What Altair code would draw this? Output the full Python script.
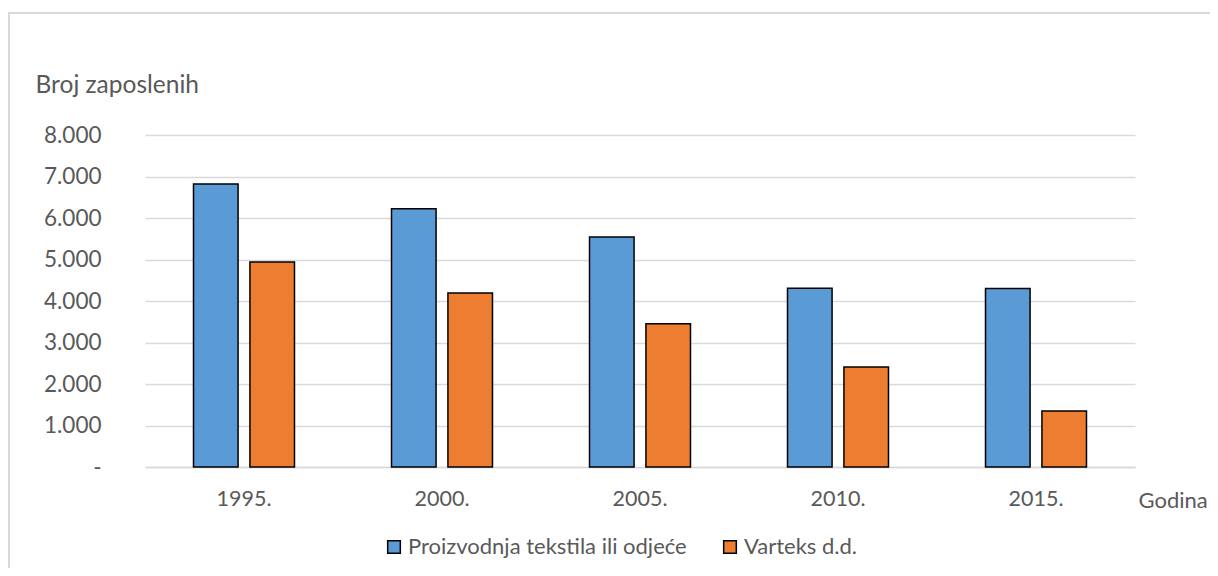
import altair as alt
import pandas as pd

years = ["1995.", "2000.", "2005.", "2010.", "2015."]
series_names = ["Proizvodnja tekstila ili odjeće", "Varteks d.d."]
tekstil = [6820, 6220, 5540, 4310, 4300]
varteks = [4940, 4190, 3450, 2410, 1350]
colors = ["#5B9BD5", "#ED7D31"]

rows = []
for i, y in enumerate(years):
    rows.append({"Godina": y, "Serija": series_names[0], "Vrijednost": tekstil[i]})
    rows.append({"Godina": y, "Serija": series_names[1], "Vrijednost": varteks[i]})
df = pd.DataFrame(rows)

FONT = "Lato"
TXT = "#595959"
GRID = "#d9d9d9"

bars = alt.Chart(df).mark_bar(stroke="black", strokeWidth=1.5).encode(
    x=alt.X(
        "Godina:N",
        sort=years,
        scale=alt.Scale(paddingInner=0.49, paddingOuter=0.245),
        axis=alt.Axis(
            title="Godina",
            titleFont=FONT,
            titleFontSize=22,
            titleFontWeight="normal",
            titleColor=TXT,
            titleAnchor="end",
            titleAlign="left",
            titleBaseline="middle",
            titleX=993,
            titleY=33,
            labelAngle=0,
            labelFont=FONT,
            labelFontSize=21.5,
            labelColor=TXT,
            labelPadding=21,
            ticks=False,
            domainColor=GRID,
            domainWidth=1.5,
        ),
    ),
    xOffset=alt.XOffset(
        "Serija:N",
        sort=series_names,
        scale=alt.Scale(paddingInner=0.21, paddingOuter=0),
    ),
    y=alt.Y(
        "Vrijednost:Q",
        scale=alt.Scale(domain=[0, 8000]),
        axis=alt.Axis(
            title="Broj zaposlenih",
            titleFont=FONT,
            titleFontSize=24.5,
            titleFontWeight="normal",
            titleColor=TXT,
            titleAngle=0,
            titleAlign="left",
            titleBaseline="middle",
            titleX=-110,
            titleY=-50,
            values=[0, 1000, 2000, 3000, 4000, 5000, 6000, 7000, 8000],
            labelExpr="datum.value == 0 ? '-' : replace(format(datum.value, ','), /,/g, '.')",
            labelFont=FONT,
            labelFontSize=22.5,
            labelColor=TXT,
            labelPadding=44,
            ticks=False,
            domain=False,
            gridColor=GRID,
            gridWidth=1.5,
        ),
    ),
    color=alt.Color(
        "Serija:N",
        sort=series_names,
        scale=alt.Scale(domain=series_names, range=colors),
        legend=alt.Legend(
            title=None,
            orient="none",
            legendX=238,
            legendY=401,
            direction="horizontal",
            symbolType="square",
            symbolSize=160,
            symbolStrokeColor="black",
            symbolStrokeWidth=1.5,
            symbolOpacity=1,
            labelFont=FONT,
            labelFontSize=22,
            labelColor=TXT,
            labelOffset=3,
            labelLimit=400,
            columnPadding=32,
        ),
    ),
)

top_border = alt.Chart(df).mark_rule(color=GRID, strokeWidth=1.5).encode(
    x=alt.value(-137), x2=alt.value(1065), y=alt.value(-122)
)
left_border = alt.Chart(df).mark_rule(color=GRID, strokeWidth=1.5).encode(
    x=alt.value(-136), y=alt.value(-122), y2=alt.value(445)
)

chart = alt.layer(top_border, left_border, bars).properties(
    width=990,
    height=332,
    autosize=alt.AutoSizeParams(type="none"),
    padding={"left": 137, "top": 127, "right": 75, "bottom": 101},
).configure(background="white").configure_view(stroke=None)

chart.save("out.html", embed_options={"renderer": "svg", "actions": False})
